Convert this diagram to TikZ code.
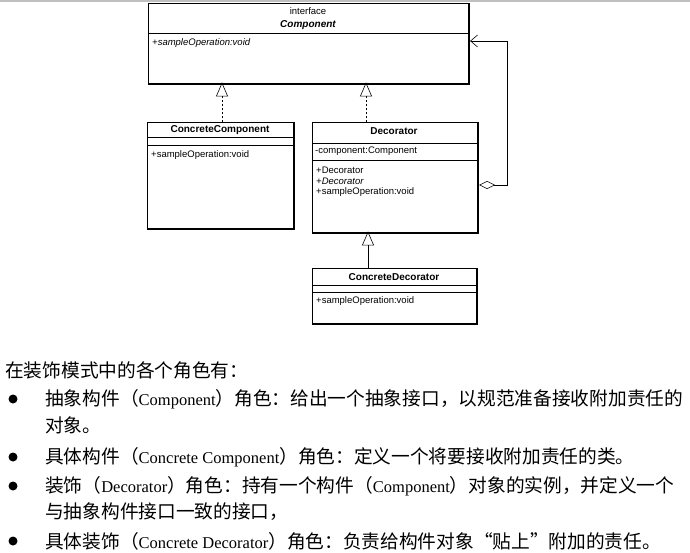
\documentclass[tikz,border=0pt]{standalone}
\usepackage{fontspec}
\setmainfont{Liberation Serif}
\newfontfamily\cjk{Noto Sans CJK SC}
\newfontfamily\umlfont{Liberation Sans}
\newcommand{\lat}[1]{{\rmfamily\fontsize{16.5}{18}\selectfont #1}}
\usetikzlibrary{arrows.meta}
\begin{document}
\begin{tikzpicture}[x=1pt,y=-1pt,
  box/.style={draw, line width=0.9pt},
  shadowedge/.style={line width=2.2pt},
  sep/.style={line width=0.8pt},
  umltxt/.style={font=\umlfont\fontsize{9.5}{10}\selectfont, inner sep=0pt},
  umlname/.style={font=\umlfont\bfseries\fontsize{10}{11}\selectfont, inner sep=0pt},
  real/.style={draw, line width=0.6pt, dash pattern=on 2pt off 2pt, -{Triangle[open, length=14pt, width=12pt]}},
  gen/.style={draw, line width=0.6pt, -{Triangle[open, length=14pt, width=12pt]}},
  body/.style={font=\cjk\fontsize{18.7}{20}\selectfont, inner sep=0pt, anchor=west},
  dot/.style={circle, fill=black, inner sep=0pt, minimum size=9pt}
]
\useasboundingbox (0,0) rectangle (690,552);
\fill[black!25] (0,0) rectangle (690,2);
% Component
\node[box, minimum width=320pt, minimum height=80pt, anchor=north west, inner sep=0pt] (comp) at (148,3) {};
\draw[shadowedge] (comp.north east) -- (comp.south east) -- (comp.south west);
\draw[sep] (148,33) -- (468,33);
\node[umltxt] (compst) at (308,11) {interface};
\node[umlname, font=\umlfont\bfseries\itshape\fontsize{10}{11}\selectfont] (compname) at (308,25) {Component};
\node[umltxt, anchor=west, font=\umlfont\itshape\fontsize{9.5}{10}\selectfont] (compop) at (152,43) {+sampleOperation:void};
% ConcreteComponent
\node[box, minimum width=146pt, minimum height=106pt, anchor=north west, inner sep=0pt] (cc) at (147,122) {};
\draw[shadowedge] (cc.north east) -- (cc.south east) -- (cc.south west);
\draw[sep] (147,137) -- (293,137);
\draw[sep] (147,145) -- (293,145);
\node[umlname] (ccname) at (220,130) {ConcreteComponent};
\node[umltxt, anchor=west] (ccop) at (151,155) {+sampleOperation:void};
% Decorator
\node[box, minimum width=165pt, minimum height=110pt, anchor=north west, inner sep=0pt] (dec) at (312,122) {};
\draw[shadowedge] (dec.north east) -- (dec.south east) -- (dec.south west);
\draw[sep] (312,143) -- (477,143);
\draw[sep] (312,160) -- (477,160);
\node[umlname] (decname) at (394,131) {Decorator};
\node[umltxt, anchor=west] (decat) at (315,151) {-component:Component};
\node[umltxt, anchor=west] (decop1) at (316,170) {+Decorator};
\node[umltxt, anchor=west, font=\umlfont\itshape\fontsize{9.5}{10}\selectfont] (decop2) at (316,181) {+Decorator};
\node[umltxt, anchor=west] (decop3) at (316,192) {+sampleOperation:void};
% ConcreteDecorator
\node[box, minimum width=164pt, minimum height=55pt, anchor=north west, inner sep=0pt] (cd) at (312,268) {};
\draw[shadowedge] (cd.north east) -- (cd.south east) -- (cd.south west);
\draw[sep] (312,285) -- (476,285);
\draw[sep] (312,292) -- (476,292);
\node[umlname] (cdname) at (394,277) {ConcreteDecorator};
\node[umltxt, anchor=west] (cdop) at (316,301) {+sampleOperation:void};
% connectors
\draw[real] (cc.north -| 222,0) -- ([yshift=1.5pt]comp.south -| 222,0);
\draw[real] (dec.north -| 366,0) -- ([yshift=1.5pt]comp.south -| 366,0);
\draw[gen] (cd.north -| 368,0) -- ([yshift=1.5pt]dec.south -| 368,0);
\coordinate (a1) at (507,185);
\coordinate (a2) at (507,41);
\draw[line width=0.6pt, {Diamond[open, length=16pt, width=8pt]}-{Straight Barb[length=7pt, width=12pt]}]
  ([xshift=1.2pt]dec.east |- 0,185) -- (a1) -- (a2) -- ([xshift=1.2pt]comp.east |- 0,41);
% text
\node[body] (h) at (5,370) {在装饰模式中的各个角色有：};
\node[dot] (b1) at (13,399) {};
\node[body] (t1) at (45,399) {抽象构件（\lat{Component}）角色：给出一个抽象接口，以规范准备接收附加责任的};
\node[body] (t2) at (45,425) {对象。};
\node[dot] (b2) at (13,457) {};
\node[body] (t3) at (45,457) {具体构件（\lat{Concrete Component}）角色：定义一个将要接收附加责任的类。};
\node[dot] (b3) at (13,486) {};
\node[body] (t4) at (45,486) {装饰（\lat{Decorator}）角色：持有一个构件（\lat{Component}）对象的实例，并定义一个};
\node[body] (t5) at (45,512) {与抽象构件接口一致的接口，};
\node[dot] (b4) at (13,541) {};
\node[body] (t6) at (45,541) {具体装饰（\lat{Concrete Decorator}）角色：负责给构件对象“贴上”附加的责任。};
\end{tikzpicture}
\end{document}
